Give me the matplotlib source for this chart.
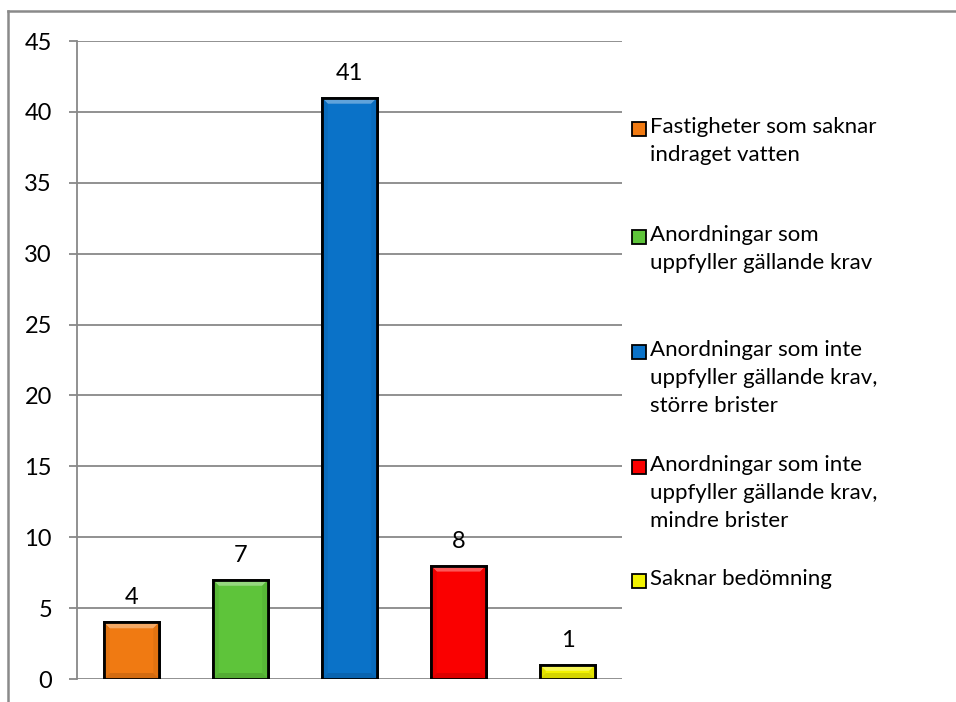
import matplotlib
matplotlib.use('Agg')
import matplotlib.pyplot as plt
from matplotlib.patches import Rectangle, Polygon
from matplotlib.lines import Line2D
from matplotlib.colors import to_rgb

# data
categories = ['Fastigheter som saknar\nindraget vatten',
              'Anordningar som\nuppfyller gällande krav',
              'Anordningar som inte\nuppfyller gällande krav,\nstörre brister',
              'Anordningar som inte\nuppfyller gällande krav,\nmindre brister',
              'Saknar bedömning']
values = [4, 7, 41, 8, 1]
colors = ['#F07A12', '#5EC43A', '#0A72C8', '#FA0000', '#F2F200']
yticks = list(range(0, 50, 5))

plt.rcParams['font.family'] = ['Lato', 'DejaVu Sans']

W, H = 956, 702
fig = plt.figure(figsize=(W / 100, H / 100), dpi=100)

def fx(px):
    return px / W

def fy(py):
    return 1 - py / H

def mix(c, other, t):
    a = to_rgb(c)
    b = to_rgb(other)
    return tuple(a[i] * (1 - t) + b[i] * t for i in range(3))

# plot area
ax = fig.add_axes([fx(77), fy(679), fx(622) - fx(77), fy(41) - fy(679)])
xs = list(range(len(values)))
bars = ax.bar(xs, values, width=0.51, color=colors, edgecolor='black',
              linewidth=2.0, zorder=3)
ax.set_xlim(-0.5, len(values) - 0.5)
ax.set_ylim(0, 45)

# bevel look of the bars (light top, darker bottom/sides)
dx = 6 * 5 / 545.0
dy = 6 * 45 / 638.0
for b, col in zip(bars, colors):
    x0, x1 = b.get_x(), b.get_x() + b.get_width()
    y0, y1 = 0, b.get_height()
    top = [(x0, y1), (x1, y1), (x1 - dx, y1 - dy), (x0 + dx, y1 - dy)]
    bot = [(x0, y0), (x1, y0), (x1 - dx, y0 + dy), (x0 + dx, y0 + dy)]
    left = [(x0, y0), (x0, y1), (x0 + dx, y1 - dy), (x0 + dx, y0 + dy)]
    right = [(x1, y0), (x1, y1), (x1 - dx, y1 - dy), (x1 - dx, y0 + dy)]
    ax.add_patch(Polygon(top, closed=True, facecolor=mix(col, 'white', 0.35),
                         edgecolor='none', zorder=3.5))
    ax.add_patch(Polygon(bot, closed=True, facecolor=mix(col, 'black', 0.12),
                         edgecolor='none', zorder=3.5))
    ax.add_patch(Polygon(left, closed=True, facecolor=mix(col, 'black', 0.06),
                         edgecolor='none', zorder=3.5))
    ax.add_patch(Polygon(right, closed=True, facecolor=mix(col, 'black', 0.06),
                         edgecolor='none', zorder=3.5))
    ax.add_patch(Rectangle((x0, y0), x1 - x0, y1 - y0, facecolor='none',
                           edgecolor='black', linewidth=2.0, zorder=4))

ax.set_yticks(yticks)
ax.set_xticks([])
ax.yaxis.grid(True, color='#888888', linewidth=1.3)
ax.set_axisbelow(True)
for s in ['top', 'right', 'bottom']:
    ax.spines[s].set_visible(False)
ax.spines['left'].set_color('#888888')
ax.spines['left'].set_linewidth(1.3)
ax.tick_params(axis='y', length=6, width=1.3, color='#888888',
               labelsize=17, pad=12)
ax.bar_label(bars, padding=10, fontsize=17)

# legend, placed by hand like the original
first_line_y = [129, 237, 352, 467, 581]
for lab, col, yc in zip(categories, colors, first_line_y):
    fig.add_artist(Rectangle((fx(632), fy(yc + 7)), fx(14), fy(yc - 7) - fy(yc + 7),
                             facecolor=col, edgecolor='black', linewidth=1.3,
                             transform=fig.transFigure))
    fig.text(fx(650), fy(yc - 12), lab, fontsize=16, va='top', ha='left',
             linespacing=1.5)

# outer frame (only top and left are visible)
fig.add_artist(Line2D([fx(8), 1], [fy(11), fy(11)], color='#8a8a8a', linewidth=1.8,
                      transform=fig.transFigure))
fig.add_artist(Line2D([fx(8), fx(8)], [fy(11), 0], color='#8a8a8a', linewidth=1.8,
                      transform=fig.transFigure))

fig.savefig('out.png', dpi=100)
